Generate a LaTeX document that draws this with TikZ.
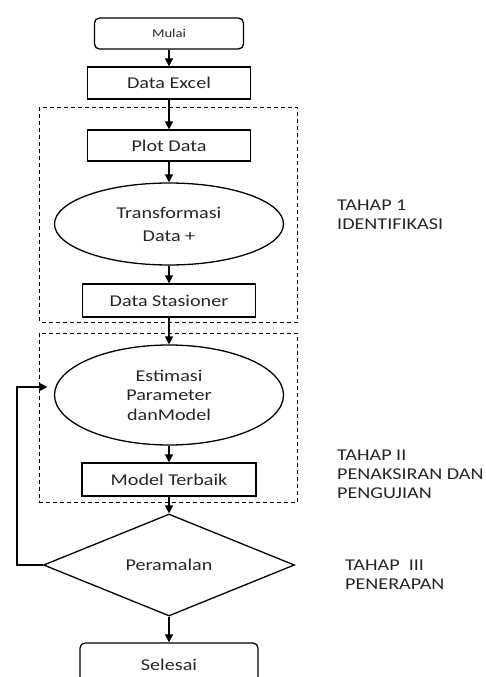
\documentclass[tikz,border=0pt]{standalone}
\usepackage{fontspec}
\usepackage{graphicx}
\setmainfont{Carlito}
\usetikzlibrary{shapes.geometric,arrows.meta}
\newcommand{\wide}[1]{\scalebox{1.22}[1]{#1}}
\tikzset{
  proc/.style={draw,line width=1.3pt,minimum height=32pt,inner sep=0pt,text=black!85,font=\fontsize{16.5}{19}\selectfont},
  term/.style={proc,rounded corners=5pt},
  oval/.style={draw,ellipse,line width=1.3pt,minimum width=229pt,inner sep=0pt,align=center,text=black!85},
  dec/.style={draw,diamond,aspect=2.46,line width=1.3pt,minimum width=251pt,minimum height=102pt,inner sep=0pt,text=black!85,font=\fontsize{16.5}{19}\selectfont},
  flow/.style={line width=1.3pt,-{Triangle[width=8pt,length=8pt]}},
  stage/.style={line width=1pt,dash pattern=on 4pt off 3pt},
  note/.style={anchor=west,align=left,inner sep=0pt,text=black!85,font=\fontsize{16.5}{19}\selectfont}
}
\begin{document}
\begin{tikzpicture}[x=1pt,y=-1pt]
	\useasboundingbox (0,0) rectangle (485,677);
	% stage frames
	\draw [stage] (39.5,107) rectangle (297,322);
	\draw [stage] (39.5,333) rectangle (297,502);
	% flow steps
	\node [term,minimum width=149pt,minimum height=31pt,font=\fontsize{12}{14}\selectfont] (mulai) at (169,33.5) {\wide{Mulai}};
	\node [proc,minimum width=163pt] (excel) at (169,83) {\wide{Data Excel}};
	\node [proc,minimum width=163pt,minimum height=31pt] (plot) at (169,145.5) {\wide{Plot Data}};
	\node [oval,minimum height=82pt,font=\fontsize{16.5}{23}\selectfont] (trans) at (169,224) {\wide{Transformasi}\\\wide{Data +}};
	\node [proc,minimum width=173pt,minimum height=33pt] (stasioner) at (169,300.5) {\wide{Data Stasioner}};
	\node [oval,minimum height=100pt,font=\fontsize{16.5}{19.5}\selectfont] (estimasi) at (169,395) {\wide{Estimasi}\\\wide{Parameter}\\\wide{danModel}};
	\node [proc,minimum width=174pt,minimum height=33pt] (terbaik) at (169,479.5) {\wide{Model Terbaik}};
	\node [dec] (ramal) at (169,565) {\wide{Peramalan}};
	\node [term,minimum width=178pt,minimum height=44pt] (selesai) at (169,665) {\wide{Selesai}};
	% connectors
	\draw [flow] (mulai) -- (excel);
	\draw [flow] (excel) -- (plot);
	\draw [flow] (plot) -- (trans);
	\draw [flow] (trans) -- (stasioner);
	\draw [flow] (stasioner) -- (estimasi);
	\draw [flow] (estimasi) -- (terbaik);
	\draw [flow] (terbaik) -- (ramal);
	\draw [flow] (ramal) -- (selesai);
	\coordinate (balik) at (17,387);
	\draw [flow] (ramal.west) -| (balik) -- ([xshift=-6.5pt]estimasi.west |- balik);
	% stage labels
	\node [note] (tahap1) at (337,214.5) {\wide{TAHAP 1}\\\wide{IDENTIFIKASI}};
	\node [note] (tahap2) at (337,474) {\wide{TAHAP II}\\\wide{PENAKSIRAN DAN}\\\wide{PENGUJIAN}};
	\node [note] (tahap3) at (345,574.5) {\wide{TAHAP\ \ III}\\\wide{PENERAPAN}};
\end{tikzpicture}
\end{document}
